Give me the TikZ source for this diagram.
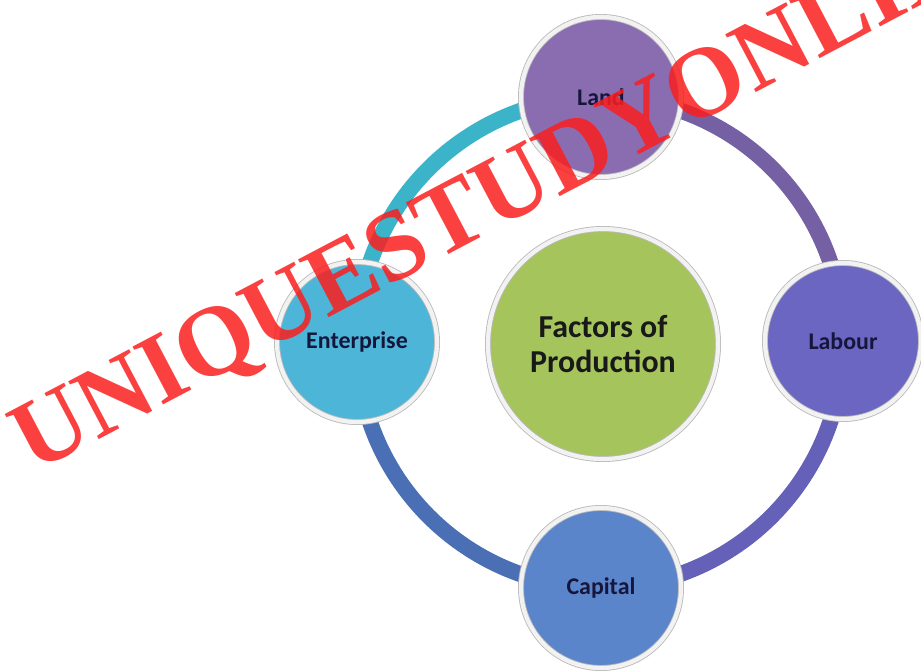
\documentclass[tikz,border=0pt]{standalone}
\usepackage{fontspec}
\setmainfont{Carlito}
\newfontfamily\markfont{Liberation Serif}
\usepackage{xcolor}
\usepackage{tikz}
\usetikzlibrary{backgrounds}

\definecolor{landfill}{HTML}{8A6DB0}
\definecolor{labourfill}{HTML}{6B66C2}
\definecolor{capitalfill}{HTML}{5B85CB}
\definecolor{enterprisefill}{HTML}{4DB6D8}
\definecolor{centrefill}{HTML}{A5C55C}
\definecolor{ringlandlabour}{HTML}{7560A4}
\definecolor{ringlabourcapital}{HTML}{6560B8}
\definecolor{ringcapitalenterprise}{HTML}{4A6FB5}
\definecolor{ringenterpriseland}{HTML}{3BB3C8}
\definecolor{labelnavy}{HTML}{16163C}
\definecolor{markred}{HTML}{FA1E1E}

\begin{document}
\begin{tikzpicture}[x=0.025cm,y=0.025cm,
		factor/.style={shape=circle,draw=gray!55,line width=0.6pt,double=white!90!gray,double distance=3pt,minimum size=4.0cm,inner sep=0pt,align=center,text=labelnavy,font=\fontsize{17}{20}\selectfont\bfseries},
		ringpart/.style={line width=0.4cm,postaction={draw=white,draw opacity=0.25,line width=0.12cm}}]
				\useasboundingbox (0,0) rectangle (921,671);
				\node[factor,fill=centrefill,minimum size=5.75cm,text=black!90,font=\fontsize{22.7}{25}\selectfont\bfseries] (f) at (603,327) {Factors of\\Production};
				\node[factor,fill=landfill] (land) at (601,574) {Land};
				\node[factor,fill=labourfill,minimum size=3.9cm] (labour) at (843,330) {Labour};
				\node[factor,fill=capitalfill] (capital) at (601,83) {Capital};
				\node[factor,fill=enterprisefill] (enterprise) at (357,329) {Enterprise};
				
				\begin{scope}[on background layer]
				\path [ringpart](land.center) edge[bend left=45,draw=ringlandlabour] (labour.center);
				\path [ringpart](labour.center) edge[bend left=45,draw=ringlabourcapital] (capital.center);
				\path [ringpart](capital.center) edge[bend left=45,draw=ringcapitalenterprise] (enterprise.center);
				\path [ringpart](enterprise.center) edge[bend left=45,draw=ringenterpriseland] (land.center);
				\end{scope}
				
				\node[rotate=27.8,anchor=base west,inner sep=0pt,text=markred,text opacity=0.85,font=\markfont\bfseries\fontsize{71}{71}\selectfont] (mark) at (33,197) {UNIQUESTUDYONLINE};
			\end{tikzpicture}
\end{document}
